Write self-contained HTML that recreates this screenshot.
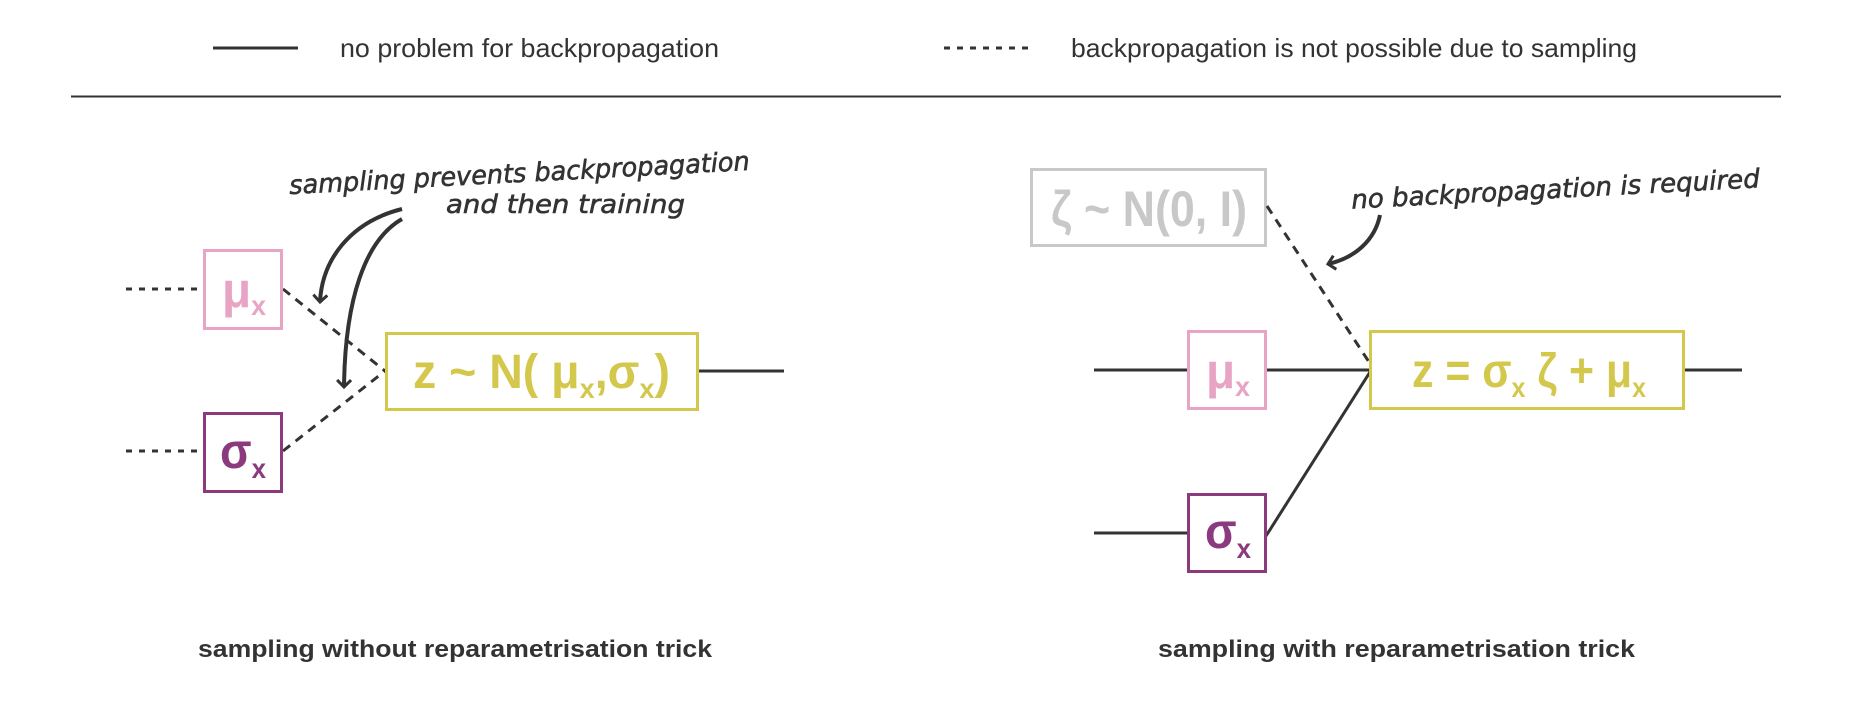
<!DOCTYPE html>
<html><head><meta charset="utf-8"><style>
html,body{margin:0;padding:0;background:#fff;}
svg{display:block;}
.leg{font-family:"Liberation Sans",sans-serif;font-size:26px;fill:#333;}
.hand{font-family:"DejaVu Sans",sans-serif;font-style:italic;font-size:26px;fill:#333;stroke:#333;stroke-width:0.6;}
.bx{font-family:"Liberation Sans",sans-serif;font-weight:bold;}
.lab{font-family:"Liberation Sans",sans-serif;font-weight:bold;font-size:24px;fill:#333;}
</style></head><body>
<svg width="1852" height="701" viewBox="0 0 1852 701" xmlns="http://www.w3.org/2000/svg">
<defs>
<marker id="ah" markerWidth="16" markerHeight="16" refX="8" refY="8" orient="auto" markerUnits="userSpaceOnUse">
<path d="M1,1 L8,8 L1,15" fill="none" stroke="#333" stroke-width="3"/>
</marker>
</defs>
<!-- legend -->
<line x1="213" y1="48" x2="298" y2="48" stroke="#333" stroke-width="3"/>
<text class="leg" x="340" y="57" textLength="379" lengthAdjust="spacingAndGlyphs">no problem for backpropagation</text>
<line x1="944" y1="48" x2="1029" y2="48" stroke="#333" stroke-width="3" stroke-dasharray="6,7"/>
<text class="leg" x="1071" y="57" textLength="566" lengthAdjust="spacingAndGlyphs">backpropagation is not possible due to sampling</text>
<line x1="71" y1="96.5" x2="1781" y2="96.5" stroke="#333" stroke-width="2"/>

<!-- LEFT -->
<text class="hand" x="289" y="182" textLength="461" lengthAdjust="spacingAndGlyphs" transform="rotate(-3 520 175)">sampling prevents backpropagation</text>
<text class="hand" x="446" y="213" textLength="239" lengthAdjust="spacingAndGlyphs">and then training</text>
<path d="M402,209 C350,222 322,260 320,302" fill="none" stroke="#333" stroke-width="4" marker-end="url(#ah)"/>
<path d="M402,219 C365,240 345,300 344,387" fill="none" stroke="#333" stroke-width="4" marker-end="url(#ah)"/>

<line x1="126" y1="289" x2="203" y2="289" stroke="#333" stroke-width="3" stroke-dasharray="6,7"/>
<line x1="126" y1="451" x2="203" y2="451" stroke="#333" stroke-width="3" stroke-dasharray="6,7"/>
<line x1="283" y1="289" x2="385" y2="371" stroke="#333" stroke-width="3" stroke-dasharray="9,7"/>
<line x1="283" y1="451" x2="385" y2="371" stroke="#333" stroke-width="3" stroke-dasharray="9,7"/>
<rect x="204.5" y="250.5" width="77" height="78" fill="#fff" stroke="#e8a4c4" stroke-width="3"/>
<text class="bx" x="222" y="307" font-size="50" fill="#e8a4c4" textLength="44" lengthAdjust="spacingAndGlyphs">μ<tspan font-size="28" dy="8">x</tspan></text>
<rect x="204.5" y="413.5" width="77" height="78" fill="#fff" stroke="#8b3a7e" stroke-width="3"/>
<text class="bx" x="220" y="468" font-size="50" fill="#8b3a7e" textLength="46" lengthAdjust="spacingAndGlyphs">σ<tspan font-size="28" dy="10">x</tspan></text>
<rect x="386.5" y="333.5" width="311" height="76" fill="#fff" stroke="#d4c84c" stroke-width="3"/>
<text class="bx" x="413" y="388" font-size="48" fill="#d4c84c" textLength="257" lengthAdjust="spacingAndGlyphs">z ~ N( μ<tspan font-size="28" dy="10">x</tspan><tspan dy="-10">,σ</tspan><tspan font-size="28" dy="10">x</tspan><tspan dy="-10">)</tspan></text>
<line x1="699" y1="371" x2="784" y2="371" stroke="#333" stroke-width="3"/>
<text class="lab" x="198" y="657" textLength="514" lengthAdjust="spacingAndGlyphs">sampling without reparametrisation trick</text>

<!-- RIGHT -->
<rect x="1031.5" y="169.5" width="234" height="76" fill="#fff" stroke="#c8c8c8" stroke-width="3"/>
<text class="bx" x="1051" y="226" font-size="50" fill="#c8c8c8" textLength="196" lengthAdjust="spacingAndGlyphs">ζ ~ N(0, I)</text>
<text class="hand" x="1351" y="198" textLength="409" lengthAdjust="spacingAndGlyphs" transform="rotate(-3 1555 190)">no backpropagation is required</text>
<path d="M1380,215 C1375,240 1355,258 1328,264" fill="none" stroke="#333" stroke-width="4" marker-end="url(#ah)"/>
<line x1="1267" y1="206" x2="1369" y2="362" stroke="#333" stroke-width="3" stroke-dasharray="9,7"/>
<line x1="1094" y1="370" x2="1187" y2="370" stroke="#333" stroke-width="3"/>
<line x1="1266" y1="370" x2="1370" y2="370" stroke="#333" stroke-width="3"/>
<line x1="1094" y1="533" x2="1187" y2="533" stroke="#333" stroke-width="3"/>
<line x1="1266" y1="536" x2="1370" y2="372" stroke="#333" stroke-width="3"/>
<rect x="1188.5" y="331.5" width="77" height="77" fill="#fff" stroke="#e8a4c4" stroke-width="3"/>
<text class="bx" x="1206" y="388" font-size="50" fill="#e8a4c4" textLength="44" lengthAdjust="spacingAndGlyphs">μ<tspan font-size="28" dy="8">x</tspan></text>
<rect x="1188.5" y="494.5" width="77" height="77" fill="#fff" stroke="#8b3a7e" stroke-width="3"/>
<text class="bx" x="1205" y="548" font-size="50" fill="#8b3a7e" textLength="46" lengthAdjust="spacingAndGlyphs">σ<tspan font-size="28" dy="10">x</tspan></text>
<rect x="1370.5" y="331.5" width="313" height="77" fill="#fff" stroke="#d4c84c" stroke-width="3"/>
<text class="bx" x="1412" y="387" font-size="48" fill="#d4c84c" textLength="234" lengthAdjust="spacingAndGlyphs">z = σ<tspan font-size="28" dy="10">x</tspan><tspan dy="-10"> ζ + μ</tspan><tspan font-size="28" dy="10">x</tspan></text>
<line x1="1685" y1="370" x2="1742" y2="370" stroke="#333" stroke-width="3"/>
<text class="lab" x="1158" y="657" textLength="477" lengthAdjust="spacingAndGlyphs">sampling with  reparametrisation trick</text>
</svg>
</body></html>
